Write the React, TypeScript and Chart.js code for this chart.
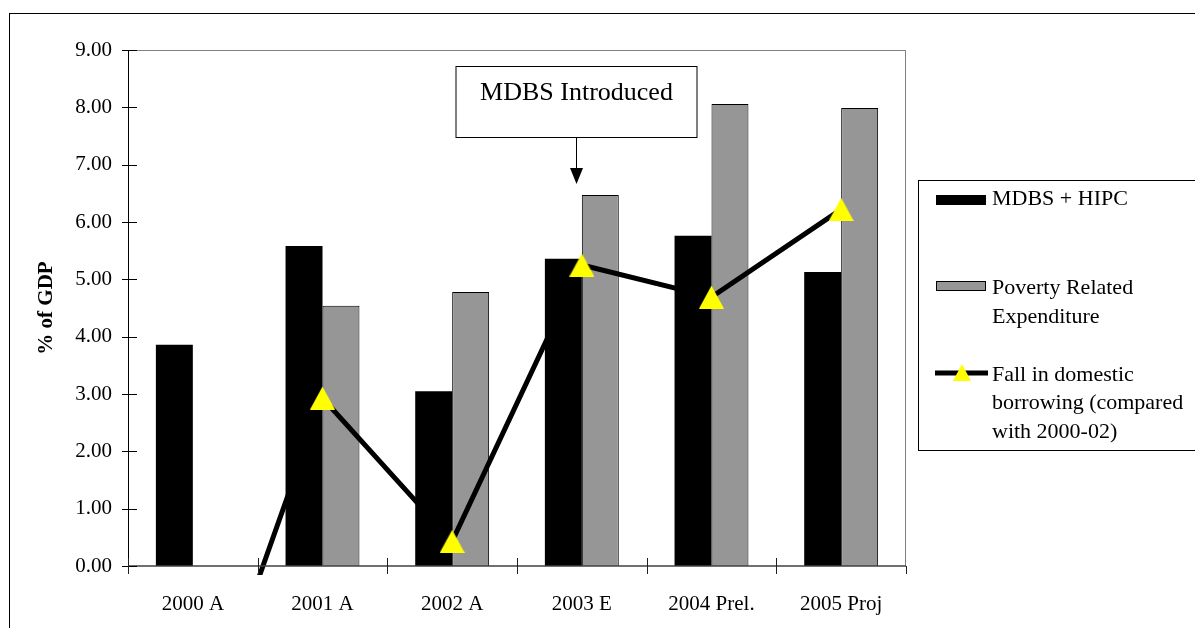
import React, { useEffect, useRef } from 'react';
import { Chart, registerables } from 'chart.js';

Chart.register(...registerables);

const categories = ['2000 A', '2001 A', '2002 A', '2003 E', '2004 Prel.', '2005 Proj'];
const mdbsHipc = [3.86, 5.58, 3.05, 5.36, 5.76, 5.13];
const povertyExp = [null, 4.54, 4.78, 6.47, 8.06, 7.99];
const fallBorrowing = [-3.45, 2.93, 0.43, 5.25, 4.69, 6.22];
const seriesLabels = ['MDBS + HIPC', 'Poverty Related Expenditure', 'Fall in domestic borrowing (compared with 2000-02)'];
const legendLines = [['MDBS + HIPC'], ['Poverty Related', 'Expenditure'], ['Fall in domestic', 'borrowing (compared', 'with 2000-02)']];
const yTickValues = [0, 1, 2, 3, 4, 5, 6, 7, 8, 9];
const yTitle = '% of GDP';
const annotationText = 'MDBS Introduced';
const annotationCategory = 3;

const FONT = "'Liberation Serif', 'Times New Roman', serif";
const GRAY = '#969696';
const YELLOW = '#FFFF00';

function makeTriangle(w: number, h: number, color: string) {
  const c = document.createElement('canvas');
  c.width = w;
  c.height = h;
  const g = c.getContext('2d')!;
  g.fillStyle = color;
  g.beginPath();
  g.moveTo(w / 2, 0);
  g.lineTo(w, h);
  g.lineTo(0, h);
  g.closePath();
  g.fill();
  return c;
}

const decorPlugin = {
  id: 'decor',
  afterDraw(chart: any) {
    const ctx = chart.ctx as CanvasRenderingContext2D;
    const { left, top, right, bottom } = chart.chartArea;
    const x = chart.scales.x;
    const y = chart.scales.y;
    ctx.save();

    // outer frame
    ctx.strokeStyle = '#000';
    ctx.lineWidth = 1;
    ctx.strokeRect(9.5, 13.5, 1400, 800);

    // plot frame (top & right, gray)
    ctx.strokeStyle = '#808080';
    ctx.beginPath();
    ctx.moveTo(left, top + 0.5);
    ctx.lineTo(right, top + 0.5);
    ctx.moveTo(right - 0.5, top);
    ctx.lineTo(right - 0.5, bottom);
    ctx.stroke();

    // x axis line
    ctx.strokeStyle = '#404040';
    ctx.lineWidth = 1.5;
    ctx.beginPath();
    ctx.moveTo(left, bottom);
    ctx.lineTo(right, bottom);
    ctx.stroke();

    // y axis line
    ctx.strokeStyle = '#000';
    ctx.lineWidth = 1;
    ctx.beginPath();
    ctx.moveTo(left + 0.5, top);
    ctx.lineTo(left + 0.5, bottom);
    ctx.stroke();

    // y ticks (crossing)
    ctx.beginPath();
    yTickValues.forEach((v) => {
      const py = Math.round(y.getPixelForValue(v)) + 0.5;
      ctx.moveTo(left - 6, py);
      ctx.lineTo(left + 9, py);
    });
    ctx.stroke();

    // x ticks at category boundaries
    ctx.strokeStyle = '#202020';
    ctx.beginPath();
    for (let i = 0; i <= categories.length; i++) {
      let px;
      if (i === 0) px = left;
      else if (i === categories.length) px = right;
      else px = (x.getPixelForValue(i - 1) + x.getPixelForValue(i)) / 2;
      px = Math.round(px) + 0.5;
      ctx.moveTo(px, i === categories.length ? bottom : bottom - 8);
      ctx.lineTo(px, bottom + 8);
    }
    ctx.stroke();

    // annotation
    const ax = Math.round(x.getPixelForValue(annotationCategory) - 6) + 0.5;
    const bw = 241, bh = 71, by = 66.5;
    ctx.fillStyle = '#fff';
    ctx.fillRect(ax - bw / 2, by, bw, bh);
    ctx.strokeStyle = '#000';
    ctx.lineWidth = 1;
    ctx.strokeRect(ax - bw / 2, by, bw, bh);
    ctx.fillStyle = '#000';
    ctx.font = `26px ${FONT}`;
    ctx.textAlign = 'center';
    ctx.textBaseline = 'middle';
    ctx.fillText(annotationText, ax, 93);
    ctx.beginPath();
    ctx.moveTo(ax, by + bh);
    ctx.lineTo(ax, 172);
    ctx.stroke();
    ctx.beginPath();
    ctx.moveTo(ax - 6.5, 168);
    ctx.lineTo(ax + 6.5, 168);
    ctx.lineTo(ax, 184);
    ctx.closePath();
    ctx.fill();

    // legend
    ctx.strokeStyle = '#000';
    ctx.lineWidth = 1;
    ctx.strokeRect(918.5, 180.5, 400, 270);
    ctx.font = `22px ${FONT}`;
    ctx.textAlign = 'left';
    ctx.textBaseline = 'middle';
    const ds = chart.data.datasets;
    // item 1
    ctx.fillStyle = ds[0].backgroundColor;
    ctx.fillRect(936, 195, 50, 10);
    ctx.fillStyle = '#000';
    legendLines[0].forEach((t, i) => ctx.fillText(t, 992, 199 + i * 29));
    // item 2
    ctx.fillStyle = ds[1].backgroundColor;
    ctx.fillRect(936.5, 281.5, 49, 9);
    ctx.strokeStyle = '#000';
    ctx.strokeRect(936.5, 281.5, 49, 9);
    ctx.fillStyle = '#000';
    legendLines[1].forEach((t, i) => ctx.fillText(t, 992, 288 + i * 29));
    // item 3
    ctx.strokeStyle = ds[2].borderColor;
    ctx.lineWidth = 5;
    ctx.beginPath();
    ctx.moveTo(935, 373);
    ctx.lineTo(988, 373);
    ctx.stroke();
    ctx.fillStyle = YELLOW;
    ctx.beginPath();
    ctx.moveTo(962, 364);
    ctx.lineTo(971, 381);
    ctx.lineTo(953, 381);
    ctx.closePath();
    ctx.fill();
    ctx.fillStyle = '#000';
    legendLines[2].forEach((t, i) => ctx.fillText(t, 992, 375 + i * 28.5));

    ctx.restore();
  },
};

export default function App() {
  const ref = useRef<HTMLCanvasElement>(null);
  useEffect(() => {
    if (!ref.current) return;
    const tri = makeTriangle(25, 23, YELLOW);
    const chart = new Chart(ref.current, {
      type: 'bar',
      data: {
        labels: categories,
        datasets: [
          {
            type: 'bar',
            label: seriesLabels[0],
            data: mdbsHipc,
            backgroundColor: '#000000',
            borderWidth: 0,
            order: 1,
            categoryPercentage: 0.57,
            barPercentage: 1,
          },
          {
            type: 'bar',
            label: seriesLabels[1],
            data: povertyExp as any,
            backgroundColor: GRAY,
            borderColor: '#000000',
            borderWidth: 1,
            order: 2,
            categoryPercentage: 0.57,
            barPercentage: 1,
          },
          {
            type: 'line',
            label: seriesLabels[2],
            data: fallBorrowing,
            borderColor: '#000000',
            borderWidth: 5,
            tension: 0,
            pointStyle: tri,
            pointRadius: 12,
            pointBackgroundColor: YELLOW,
            pointBorderWidth: 0,
            order: 0,
            clip: { left: 0, top: 20, right: 20, bottom: 9 } as any,
          },
        ],
      } as any,
      options: {
        animation: false,
        responsive: false,
        devicePixelRatio: 1,
        layout: { padding: { left: 0, top: 50, right: 289, bottom: 0 } },
        plugins: {
          legend: { display: false },
          tooltip: { enabled: false },
        },
        scales: {
          x: {
            offset: true,
            grid: { display: false, drawTicks: false },
            border: { display: false },
            ticks: {
              color: '#000',
              padding: 26,
              font: { family: FONT, size: 21 },
              maxRotation: 0,
            },
            afterFit: (s: any) => { s.height = 62; },
          },
          y: {
            min: 0,
            max: 9,
            grid: { display: false, drawTicks: false },
            border: { display: false },
            ticks: {
              stepSize: 1,
              color: '#000',
              padding: 16,
              font: { family: FONT, size: 21 },
              callback: (v: any) => Number(v).toFixed(2),
            },
            title: {
              display: true,
              text: yTitle,
              color: '#000',
              font: { family: FONT, size: 21, weight: 'bold' },
              padding: { top: 34, bottom: 0 },
            },
            afterFit: (s: any) => { s.width = 128; },
          },
        },
      },
      plugins: [decorPlugin],
    });
    return () => chart.destroy();
  }, []);
  return (
    <div style={{ position: 'fixed', left: 0, top: 0, width: 1195, height: 628, background: '#fff' }}>
      <canvas ref={ref} width={1195} height={628} style={{ width: 1195, height: 628, display: 'block' }} />
    </div>
  );
}
